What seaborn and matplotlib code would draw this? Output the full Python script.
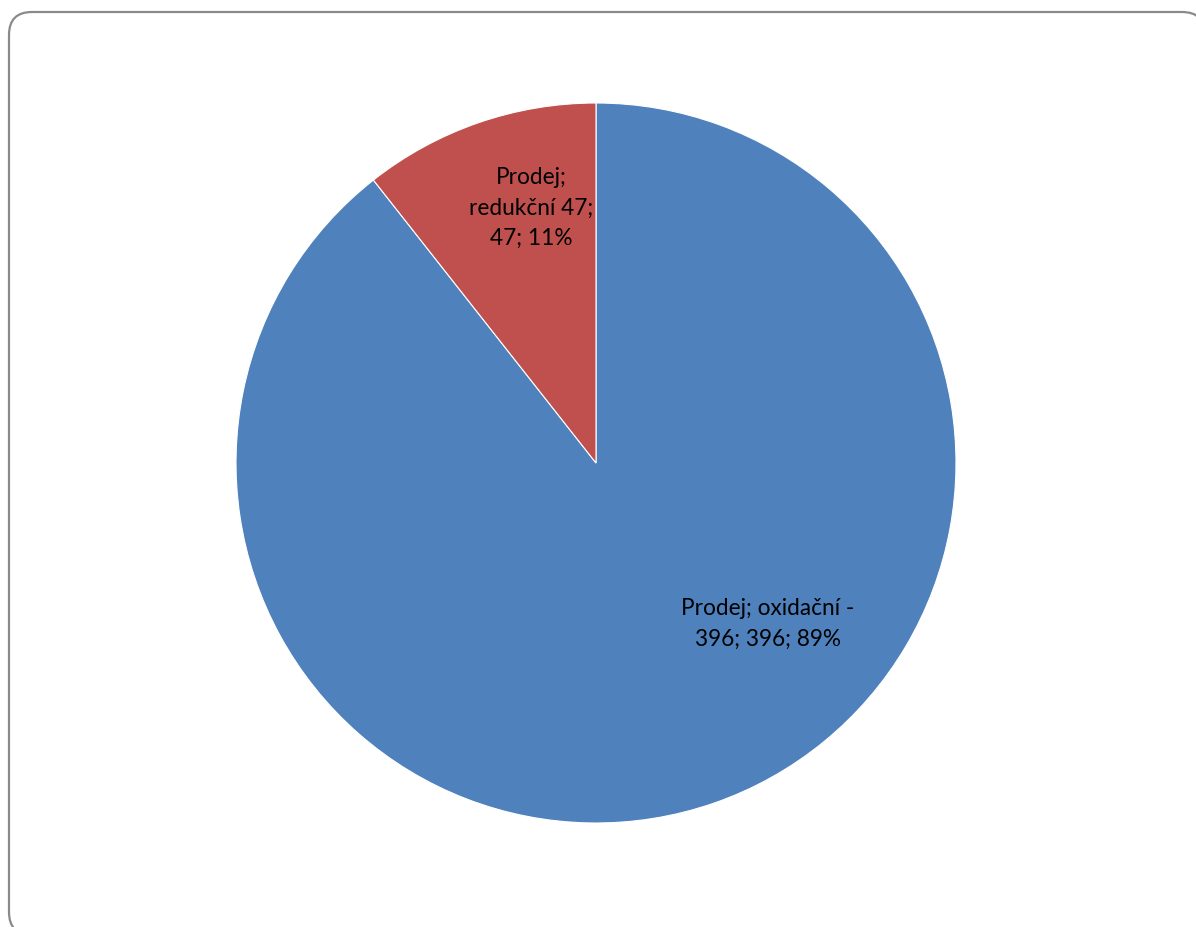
import matplotlib
matplotlib.use("Agg")
import matplotlib.pyplot as plt
import seaborn as sns
from matplotlib.patches import FancyBboxPatch

# Data
categories = ["Prodej; oxidační - 396", "Prodej; redukční 47"]
values = [396, 47]
colors = ["#4F81BD", "#C0504D"]

sns.set_theme(style="white")
plt.rcParams["font.family"] = ["Lato", "DejaVu Sans"]

W, H = 1196, 927
fig = plt.figure(figsize=(W / 100, H / 100), dpi=100)
fig.patch.set_facecolor("white")

# Frame (rounded border), drawn in pixel space as a flattened polyline
bg = fig.add_axes([0, 0, 1, 1])
bg.set_xlim(0, W)
bg.set_ylim(0, H)
bg.axis("off")
frame = FancyBboxPatch((9, H - 935), 1196, 923,
                       boxstyle="round,pad=0,rounding_size=23")
for poly in frame.get_path().to_polygons(closed_only=False):
    bg.plot(poly[:, 0], poly[:, 1], color="#8a8a8a", linewidth=1.6,
            solid_joinstyle="round")

# Pie
cx, cy, r = 596, 463, 360
ax = fig.add_axes([(cx - r) / W, (H - cy - r) / H, 2 * r / W, 2 * r / H])
wedges, _ = ax.pie(values, colors=colors, startangle=90, counterclock=False,
                   radius=1.0, wedgeprops=dict(edgecolor="white", linewidth=0.8))
ax.set_xlim(-1, 1)
ax.set_ylim(-1, 1)
ax.axis("off")

label_text = ["Prodej; oxidační -\n396; 396; 89%", "Prodej;\nredukční 47;\n47; 11%"]
label_pos = [(0.478, -0.447), (-0.18, 0.708)]
for t, (x, y) in zip(label_text, label_pos):
    ax.text(x, y, t, ha="center", va="center", fontsize=16.3, color="black",
            linespacing=1.55)

fig.savefig("out.png", dpi=100)
